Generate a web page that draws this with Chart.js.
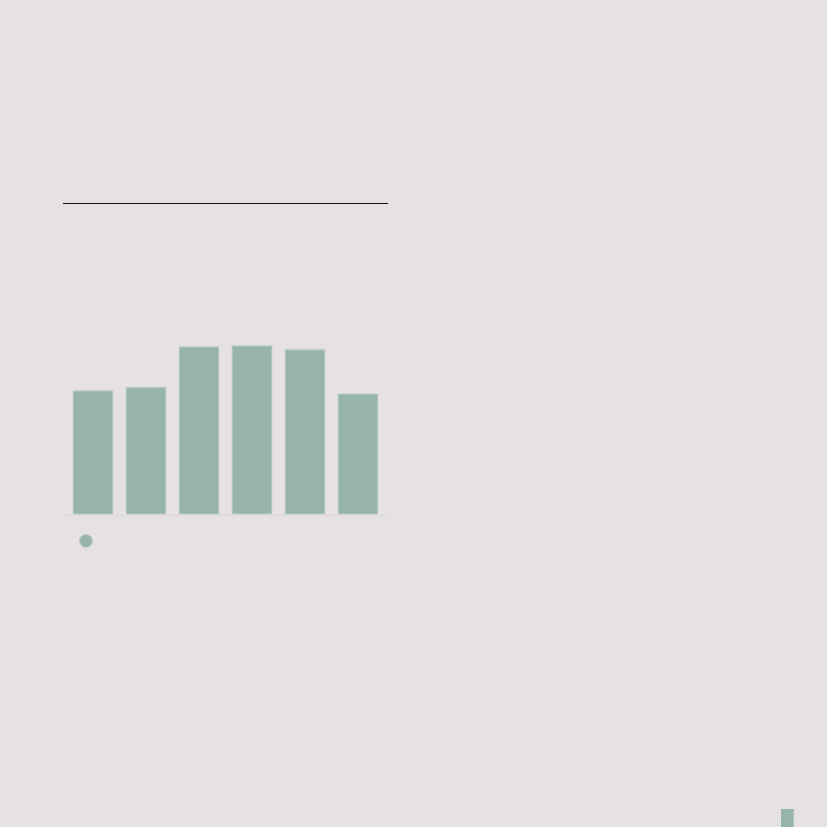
<!DOCTYPE html>
<html>
<head>
<meta charset="utf-8">
<script src="https://cdn.jsdelivr.net/npm/chart.js@4"></script>
<style>
  html, body { margin: 0; padding: 0; width: 827px; height: 827px; overflow: hidden; background: #e6e2e1; }
  #card { position: absolute; left: 63px; top: 203px; width: 325px; border-top: 1px solid #111; }
  #wrap1 { position: relative; width: 325px; height: 357.5px; }
  #wrap2 { position: absolute; left: 781px; top: 809px; width: 13px; height: 40px; }
</style>
</head>
<body>
<div id="card"><div id="wrap1"><canvas id="c1"></canvas></div></div>
<div id="wrap2"><canvas id="c2"></canvas></div>
<script>
const categories = ['', '', '', '', '', ''];
const values = [40.1, 41.1, 54.2, 54.5, 53.3, 38.9];
const cornerCategories = [''];
const cornerValues = [100];

const barColor = '#96b5a8';
const edgeColor = '#b6cac0';

const baseline = {
  id: 'baseline',
  beforeDatasetsDraw(chart) {
    const y = chart.scales.y.getPixelForValue(0);
    const ctx = chart.ctx;
    ctx.save();
    ctx.strokeStyle = '#d8d4d3';
    ctx.lineWidth = 1;
    ctx.beginPath();
    ctx.moveTo(0, Math.round(y) + 0.5);
    ctx.lineTo(chart.width, Math.round(y) + 0.5);
    ctx.stroke();
    ctx.restore();
  }
};

new Chart(document.getElementById('c1'), {
  type: 'bar',
  data: {
    labels: categories,
    datasets: [{
      label: '',
      data: values,
      backgroundColor: barColor,
      borderColor: edgeColor,
      borderWidth: 1,
      categoryPercentage: 0.86,
      barPercentage: 0.9
    }]
  },
  options: {
    responsive: true,
    maintainAspectRatio: false,
    animation: false,
    layout: { padding: { left: 3.5, right: 3.5, top: 0, bottom: 0 } },
    scales: {
      x: { display: false },
      y: { display: false, min: 0, max: 100 }
    },
    plugins: {
      legend: {
        position: 'bottom',
        align: 'start',
        labels: {
          usePointStyle: true,
          pointStyle: 'circle',
          boxWidth: 9,
          boxHeight: 9,
          padding: 15,
          font: { size: 23 }
        }
      },
      tooltip: { enabled: false }
    }
  },
  plugins: [baseline]
});

new Chart(document.getElementById('c2'), {
  type: 'bar',
  data: {
    labels: cornerCategories,
    datasets: [{
      data: cornerValues,
      backgroundColor: barColor,
      borderColor: edgeColor,
      borderWidth: { right: 1 },
      categoryPercentage: 1,
      barPercentage: 1
    }]
  },
  options: {
    responsive: true,
    maintainAspectRatio: false,
    animation: false,
    layout: { padding: 0 },
    scales: {
      x: { display: false },
      y: { display: false, min: 0, max: 100 }
    },
    plugins: { legend: { display: false }, tooltip: { enabled: false } }
  }
});
</script>
</body>
</html>
